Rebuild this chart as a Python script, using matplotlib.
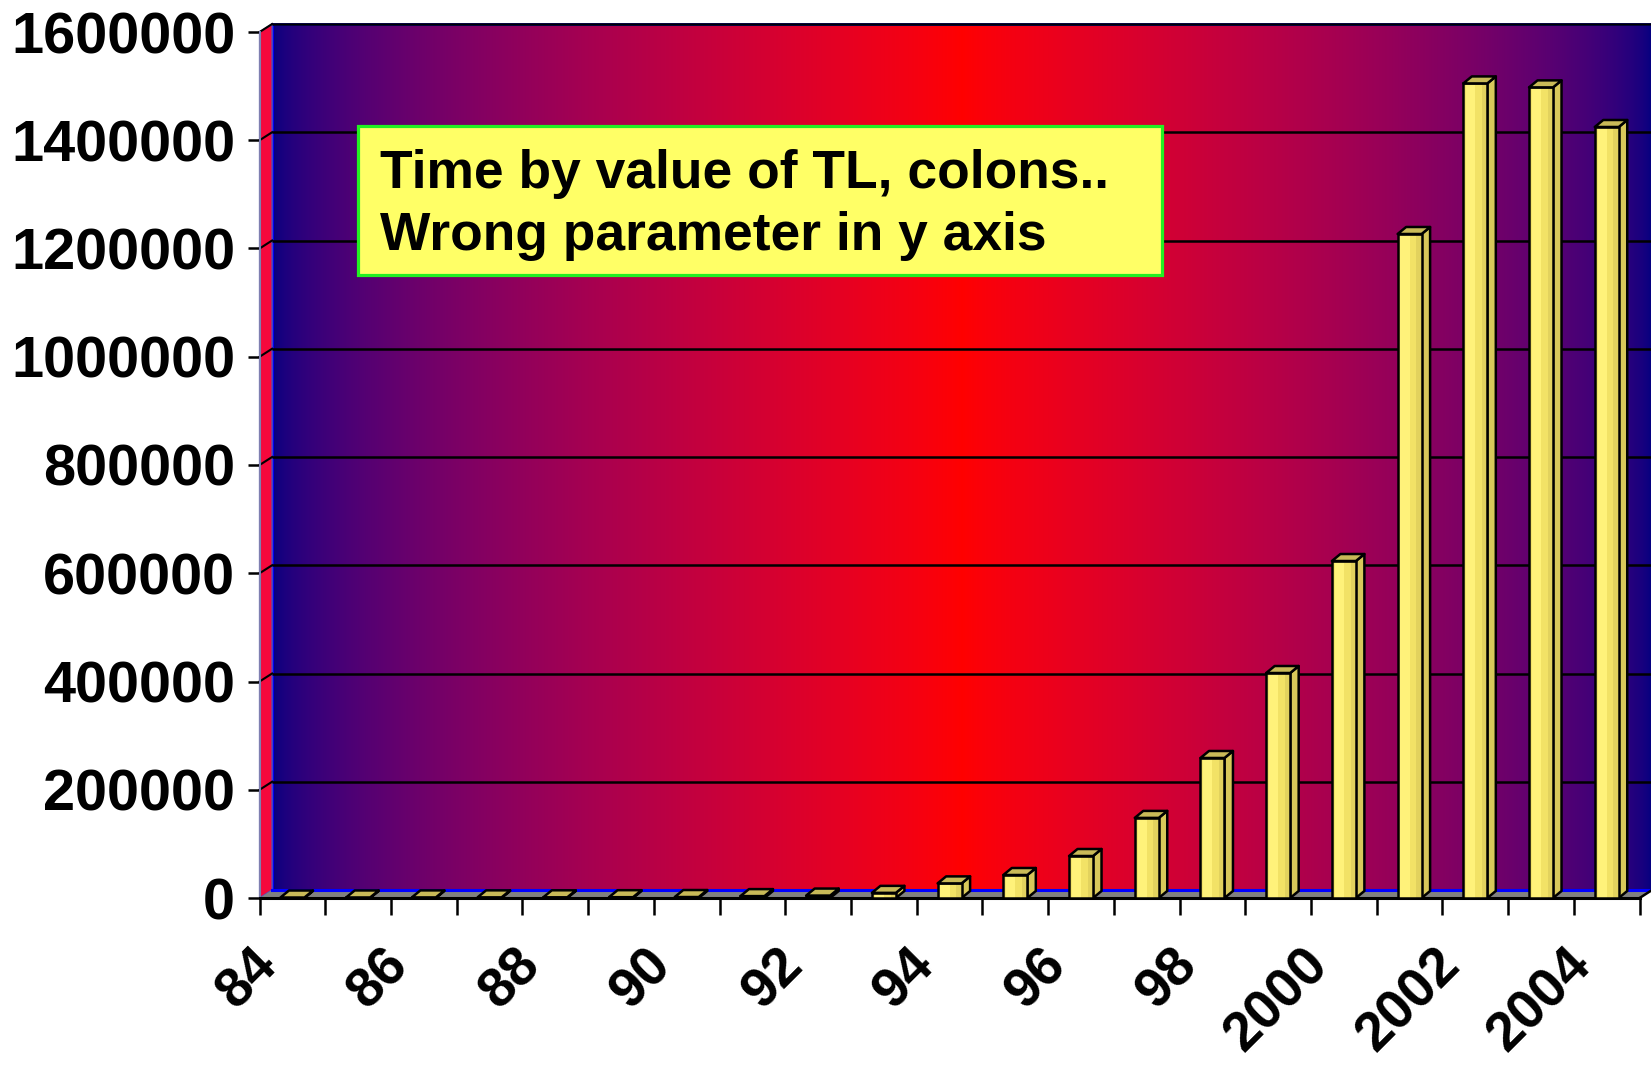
import matplotlib
matplotlib.use('Agg')
import matplotlib.pyplot as plt
import numpy as np
from matplotlib.patches import Polygon, Rectangle

# ---------------- data ----------------
categories = ['84', '85', '86', '87', '88', '89', '90', '91', '92', '93', '94',
              '95', '96', '97', '98', '99', '2000', '2001', '2002', '2003', '2004']
values = [900, 1000, 1100, 1200, 1300, 1500, 1800, 3500, 4500, 9500, 27000,
          42500, 77600, 148000, 258700, 415700, 622600, 1226800, 1505000,
          1497700, 1424500]
ytick_values = [0, 200000, 400000, 600000, 800000, 1000000, 1200000, 1400000, 1600000]
ytick_labels = [str(v) for v in ytick_values]
xlabel_step = 2
note_lines = ["Time by value of TL, colons..", "Wrong parameter in y axis"]

# ---------------- style ----------------
plt.rcParams['font.family'] = ['Liberation Sans', 'DejaVu Sans']
plt.rcParams['font.weight'] = 'bold'

W, H = 1651, 1065
fig = plt.figure(figsize=(W / 100, H / 100), dpi=100)
fig.patch.set_facecolor('white')
ax_l, ax_b, ax_w, ax_h = 259.6 / W, 167 / H, 1380 / W, 866 / H
ax = fig.add_axes([ax_l, ax_b, ax_w, ax_h])
ax.patch.set_visible(False)

n = len(categories)
ymax = ytick_values[-1]
px_x = ax_w * W / n          # pixels per category
px_y = ax_h * H / ymax       # pixels per value unit
DX, DY = 12.5 / px_x, 8 / px_y      # wall depth
BDX, BDY = 8.5 / px_x, 7 / px_y     # bar depth
BW = 24 / px_x                       # bar front width

# back wall gradient: navy -> red -> navy
t = np.linspace(0, 1, 800)
u = 1 - np.abs(2 * t - 1)
r = 255 * u ** 0.55
g = np.zeros_like(u)
b = 128 * (1 - u) ** 0.75
grad = (np.stack([r, g, b], axis=1) / 255)[None, :, :]
ax.imshow(grad, extent=[DX, n + DX, DY, ymax + DY], aspect='auto', zorder=0,
          clip_on=False, interpolation='bilinear')
ax.add_patch(Rectangle((DX, DY), n, ymax, fill=False, ec='#0000FF', lw=2,
                       clip_on=False, zorder=1))

# side wall
ax.add_patch(Polygon([(0, 0), (DX, DY), (DX, ymax + DY), (0, ymax)],
                     closed=True, fc='#F5083C', ec='#5050C0', lw=1,
                     clip_on=False, zorder=1))
# floor
ax.add_patch(Polygon([(0, 0), (n, 0), (n + DX, DY), (DX, DY)], closed=True,
                     fc='#808080', ec='none', clip_on=False, zorder=1))
ax.plot([DX, n + DX], [DY, DY], color='#0000FF', lw=2.2, clip_on=False, zorder=1.5)
ax.plot([n, n + DX], [0, DY], color='black', lw=1.8, clip_on=False, zorder=2)

# gridlines on back wall + side wall connectors
for v in ytick_values[1:]:
    ax.plot([DX, n + DX], [v + DY, v + DY], color='black', lw=1.8,
            clip_on=False, zorder=2, solid_capstyle='butt')
    ax.plot([0, DX], [v, v + DY], color='black', lw=1.5, clip_on=False, zorder=2)

# bars
strip_frac = [0.12, 0.38, 0.28, 0.22]
strip_cols = ['#F4E468', '#FFF27A', '#F2E266', '#E2D25E']
for i, v in enumerate(values):
    x0 = i + 0.5 - BW / 2
    x1 = x0 + BW
    z = 3 + i * 0.01
    # side face
    ax.add_patch(Polygon([(x1, 0), (x1 + BDX, BDY), (x1 + BDX, v + BDY), (x1, v)],
                         closed=True, fc='#D8C85A', ec='black', lw=1.8,
                         zorder=z, clip_on=False, joinstyle='round'))
    # front face strips
    xs = x0
    for f, c in zip(strip_frac, strip_cols):
        ax.add_patch(Rectangle((xs, 0), BW * f, v, fc=c, ec='none', zorder=z,
                               clip_on=False))
        xs += BW * f
    ax.add_patch(Rectangle((x0, 0), BW, v, fill=False, ec='black', lw=1.8,
                           zorder=z, clip_on=False))
    # top face
    ax.add_patch(Polygon([(x0, v), (x1, v), (x1 + BDX, v + BDY), (x0 + BDX, v + BDY)],
                         closed=True, fc='#C9BA58', ec='black', lw=1.8,
                         zorder=z, clip_on=False, joinstyle='round'))

ax.set_xlim(0, n)
ax.set_ylim(0, ymax)

# axes / ticks
for s in ['top', 'right']:
    ax.spines[s].set_visible(False)
ax.spines['left'].set_color('#7F7FB0')
ax.spines['left'].set_linewidth(1.5)
ax.spines['bottom'].set_color('black')
ax.spines['bottom'].set_linewidth(2.2)
ax.spines['bottom'].set_zorder(2.5)

ax.set_yticks(ytick_values)
ax.set_yticklabels(ytick_labels)
ax.tick_params(axis='y', length=8.6, width=1.8, pad=9, labelsize=41.5,
               color='black', direction='out')
for lab in ax.get_yticklabels():
    lab.set_fontweight('bold')

ax.set_xticks(range(n + 1))
ax.set_xticklabels([''] * (n + 1))
ax.tick_params(axis='x', length=12, width=1.8, color='black', direction='out')

for i in range(0, n, xlabel_step):
    ax.annotate(categories[i], xy=(i, 0), xycoords=('data', 'axes fraction'),
                xytext=(-9, -41), textcoords='offset pixels', ha='right', va='top',
                rotation=45, rotation_mode='anchor', fontsize=39.5,
                fontweight='bold', annotation_clip=False)

# note box
bx0, bx1 = (358 - 259.6) / 1380, (1162 - 259.6) / 1380
by0, by1 = (898 - 275) / 866, (898 - 126) / 866
ax.add_patch(Rectangle((bx0, by0), bx1 - bx0, by1 - by0, transform=ax.transAxes,
                       fc='#FFFF66', ec='#22F022', lw=2.3, zorder=10))
tx = (380 - 259.6) / 1380
for line, base in zip(note_lines, [188, 250]):
    ax.text(tx, (898 - base) / 866, line, transform=ax.transAxes, fontsize=38.4,
            fontweight='bold', va='baseline', ha='left', zorder=11, color='black')

fig.savefig('out.png', dpi=100, facecolor='white')
